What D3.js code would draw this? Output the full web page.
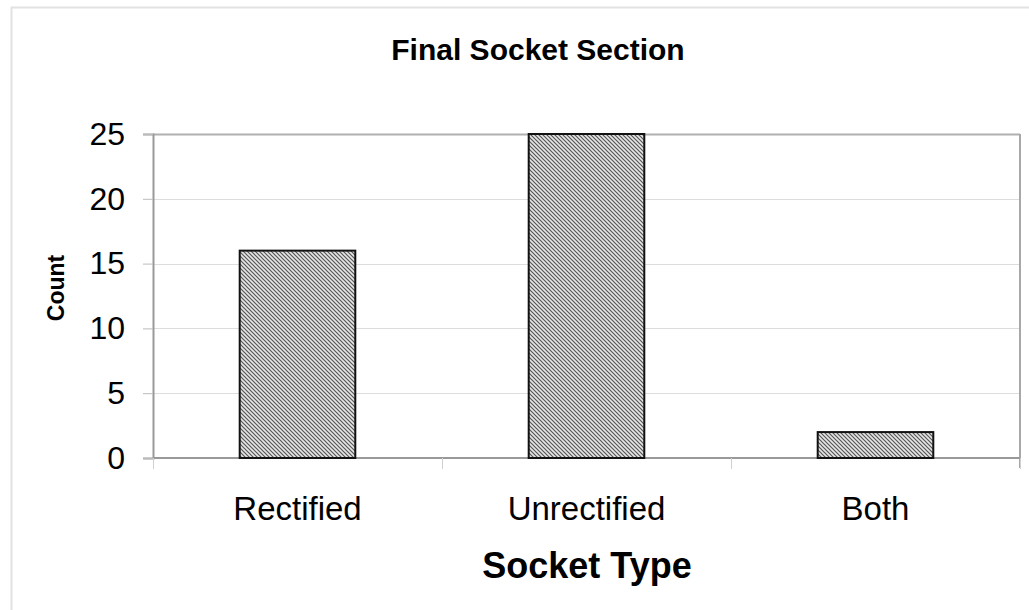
<!DOCTYPE html>
<html>
<head>
<meta charset="utf-8">
<script src="https://cdn.jsdelivr.net/npm/d3@7"></script>
<style>
  html, body { margin: 0; padding: 0; background: #fff; }
  svg { display: block; font-family: "Liberation Sans", Arial, sans-serif; }
</style>
</head>
<body>
<svg id="chart" width="1029" height="610"></svg>
<script>
// Counts of final socket type
const categories = ["Rectified", "Unrectified", "Both"];
const counts = [16, 25, 2];
const yTicks = [0, 5, 10, 15, 20, 25];
const chartTitle = "Final Socket Section";
const xTitle = "Socket Type";
const yTitle = "Count";

const svg = d3.select("#chart");
const W = 1029, H = 610;
const plot = { left: 153, right: 1020, top: 134, bottom: 458 };

// Hatched fill for the bars
const defs = svg.append("defs");
const pat = defs.append("pattern")
  .attr("id", "hatch")
  .attr("patternUnits", "userSpaceOnUse")
  .attr("width", 4).attr("height", 4);
pat.append("rect").attr("width", 4).attr("height", 4).attr("fill", "#e6e6e6");
pat.append("path")
  .attr("d", "M-1,-1 L5,5 M-1,3 L1,5 M3,-1 L5,1")
  .attr("stroke", "#555").attr("stroke-width", 1.2);

// Outer chart frame
svg.append("path")
  .attr("d", `M11.5,${H} L11.5,7.5 L${W},7.5`)
  .attr("fill", "none").attr("stroke", "#e2e2e2").attr("stroke-width", 2);

const x = d3.scaleBand().domain(categories).range([plot.left, plot.right]).paddingInner(0).paddingOuter(0);
const y = d3.scaleLinear().domain([0, 25]).range([plot.bottom, plot.top]);

// Gridlines
svg.append("g").selectAll("line").data(yTicks.filter(d => d > 0)).join("line")
  .attr("x1", plot.left).attr("x2", plot.right)
  .attr("y1", d => Math.round(y(d)) + 0.5).attr("y2", d => Math.round(y(d)) + 0.5)
  .attr("stroke", d => d === 25 ? "#b0b0b0" : "#dddddd").attr("stroke-width", d => d === 25 ? 2 : 1);

// Right side of plot area
svg.append("line")
  .attr("x1", plot.right).attr("x2", plot.right)
  .attr("y1", plot.top).attr("y2", plot.bottom + 10)
  .attr("stroke", "#a8a8a8").attr("stroke-width", 2);

// Y axis
const yAxis = svg.append("g")
  .attr("transform", `translate(${plot.left},0)`)
  .call(d3.axisLeft(y).tickValues(yTicks).tickSize(10).tickPadding(18).tickFormat(d3.format("d")));
yAxis.select(".domain").attr("stroke", "#999").attr("stroke-width", 2);
yAxis.selectAll(".tick line").attr("stroke", "#bbb");
yAxis.selectAll(".tick text")
  .attr("font-size", 32).attr("fill", "#000")
  .attr("font-family", "Liberation Sans, Arial, sans-serif");

// X axis (ticks at category boundaries)
const xAxisG = svg.append("g").attr("transform", `translate(0,${plot.bottom})`);
xAxisG.append("line")
  .attr("x1", plot.left).attr("x2", plot.right)
  .attr("y1", 0).attr("y2", 0)
  .attr("stroke", "#999").attr("stroke-width", 2);
const bounds = categories.map(c => x(c)).concat([x(categories[categories.length - 1]) + x.bandwidth()]);
xAxisG.selectAll("line.tk").data(bounds).join("line")
  .attr("class", "tk")
  .attr("x1", d => Math.round(d) + 0.5).attr("x2", d => Math.round(d) + 0.5)
  .attr("y1", 0).attr("y2", 11)
  .attr("stroke", "#d0d0d0");
xAxisG.selectAll("text").data(categories).join("text")
  .attr("x", d => x(d) + x.bandwidth() / 2)
  .attr("y", 62)
  .attr("text-anchor", "middle")
  .attr("font-size", 33)
  .text(d => d);

// Bars
const barW = x.bandwidth() * 0.4;
svg.append("g").selectAll("rect").data(counts).join("rect")
  .attr("x", (d, i) => x(categories[i]) + (x.bandwidth() - barW) / 2)
  .attr("y", d => y(d))
  .attr("width", barW)
  .attr("height", d => y(0) - y(d))
  .attr("fill", "url(#hatch)")
  .attr("stroke", "#111").attr("stroke-width", 2);

// Titles
svg.append("text")
  .attr("x", 538).attr("y", 60)
  .attr("text-anchor", "middle")
  .attr("font-size", 30).attr("font-weight", "bold")
  .text(chartTitle);

svg.append("text")
  .attr("x", 587).attr("y", 578)
  .attr("text-anchor", "middle")
  .attr("font-size", 36).attr("font-weight", "bold")
  .text(xTitle);

svg.append("text")
  .attr("transform", "translate(64,288) rotate(-90)")
  .attr("text-anchor", "middle")
  .attr("font-size", 23).attr("font-weight", "bold")
  .text(yTitle);
</script>
</body>
</html>
